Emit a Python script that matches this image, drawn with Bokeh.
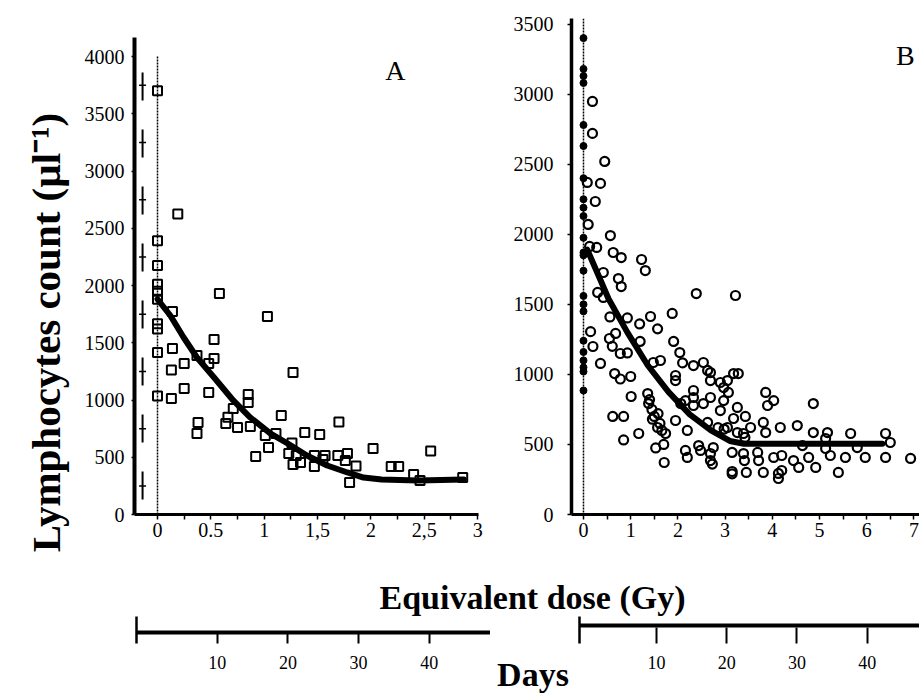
import numpy as np
from bokeh.plotting import figure
from bokeh.layouts import column, row
from bokeh.models import Range1d, FixedTicker, Span
from bokeh.core.properties import value
from bokeh.embed import file_html
from bokeh.resources import INLINE

SERIF = "Liberation Serif"

# ---------------- Panel A data (equivalent dose in Gy, lymphocytes per µl) ----------------
a_dose = [0.0, 0.19, 0.0, 0.0, 0.0, 0.0, 0.0, 0.58, 0.14, 1.03, 0.0, 0.0, 0.53, 0.14, 0.0,
          0.37, 0.53, 0.48, 0.25, 0.13, 1.27, 0.25, 0.0, 0.13, 0.48, 0.85, 0.85, 0.71, 0.66,
          0.38, 0.64, 0.37, 0.75, 0.87, 1.16, 1.01, 1.11, 1.04, 0.92, 1.38, 1.52, 1.70, 1.26,
          1.23, 1.30, 1.27, 1.34, 1.47, 1.57, 1.47, 1.55, 1.69, 1.78, 1.76, 1.86, 1.80, 2.02,
          2.19, 2.26, 2.40, 2.46, 2.56, 2.86]
a_count = [3700, 2625, 2390, 2175, 2010, 1950, 1880, 1930, 1773, 1729, 1665, 1620, 1528, 1450, 1415,
           1389, 1362, 1319, 1319, 1262, 1240, 1100, 1035, 1013, 1066, 1048, 978, 926, 850,
           803, 795, 707, 760, 769, 865, 690, 707, 585, 507, 716, 698, 808, 625,
           533, 515, 437, 454, 515, 515, 419, 480, 515, 533, 472, 424, 280, 576,
           419, 419, 349, 297, 555, 323]
a_fit_dose = [0.0, 0.12, 0.245, 0.37, 0.53, 0.71, 0.87, 1.06, 1.22, 1.40, 1.59, 1.78, 1.93, 2.10, 2.44, 2.87]
a_fit_count = [1880, 1738, 1546, 1371, 1197, 996, 847, 707, 620, 515, 428, 367, 323, 305, 297, 306]
a_guide_marks = [250, 750, 1250, 1750, 2250, 2750, 3250, 3750]

a_xticks = [0, 0.5, 1, 1.5, 2, 2.5, 3]
a_xminor = [0.25, 0.75, 1.25, 1.75, 2.25, 2.75]
a_xlabels = {0: "0", 0.5: "0.5", 1: "1", 1.5: "1,5", 2: "2", 2.5: "2,5", 3: "3"}
a_yticks = [0, 500, 1000, 1500, 2000, 2500, 3000, 3500, 4000]

# ---------------- Panel B data ----------------
b_zero_count = [3400, 3180, 3130, 3080, 2780, 2630, 2400, 2250, 2190, 2130, 1975, 1870, 1850,
                1740, 1560, 1500, 1450, 1240, 1160, 1100, 1050, 1020, 885]
b_dose = [0.19, 0.19, 0.45, 0.08, 0.36, 0.25, 0.10, 0.57, 0.13, 0.28, 0.63, 0.80, 1.23, 1.31, 0.42,
          0.74, 0.80, 0.30, 0.42, 2.39, 3.22, 0.56, 0.93, 1.42, 1.88, 1.19, 0.15, 1.57, 0.20, 0.55,
          0.61, 0.68, 1.20, 0.93, 0.78, 0.36, 0.66, 0.78, 1.00, 1.01, 0.62, 0.85, 0.85, 1.17, 1.53,
          1.70, 1.71, 1.91, 2.04, 2.10, 1.95, 1.95, 1.48, 1.63, 2.33, 2.54, 2.63, 2.69, 2.69, 2.90,
          3.05, 2.97, 3.18, 3.28, 3.07, 2.97, 2.90, 2.69, 2.54, 2.33, 2.33, 2.33, 2.16, 2.06, 1.95,
          1.38, 1.36, 1.45, 1.50, 1.58, 1.62, 1.57, 1.74, 2.20, 2.16, 2.20, 2.44, 2.48, 2.69, 2.69,
          2.75, 2.73, 3.05, 3.18, 3.26, 3.43, 3.26, 3.39, 3.54, 3.86, 4.03, 3.90, 3.81, 4.17, 3.15,
          3.39, 3.41, 3.69, 3.71, 3.15, 3.15, 3.45, 3.81, 4.03, 4.20, 4.13, 4.20, 4.13, 4.53, 4.45,
          4.56, 4.77, 4.92, 4.87, 4.64, 4.87, 5.17, 5.13, 5.13, 5.23, 5.40, 5.55, 5.66, 5.80, 5.97,
          6.40, 6.50, 6.40, 6.93, 3.86, 1.40, 1.46, 1.66, 2.63, 2.85, 2.98, 3.42]
b_count = [2948, 2720, 2520, 2370, 2363, 2234, 2070, 1991, 1913, 1906, 1870, 1834, 1820, 1741, 1727,
           1684, 1627, 1585, 1549, 1577, 1563, 1410, 1403, 1413, 1435, 1360, 1305, 1325, 1199, 1256,
           1200, 1292, 1235, 1153, 1149, 1078, 1006, 967, 985, 842, 700, 700, 532, 578, 475,
           500, 371, 1235, 1156, 1082, 992, 956, 1085, 1099, 1063, 1085, 1028, 1013, 956, 942,
           956, 906, 1006, 1006, 871, 813, 742, 835, 792, 885, 835, 778, 813, 792, 671,
           792, 863, 750, 700, 720, 650, 621, 578, 600, 457, 407, 492, 457, 435, 385,
           478, 360, 621, 685, 764, 700, 585, 578, 621, 871, 813, 778, 657, 621, 443,
           435, 385, 443, 385, 307, 290, 300, 300, 407, 421, 293, 314, 257, 635, 385,
           336, 407, 336, 792, 492, 585, 585, 542, 471, 421, 300, 407, 578, 478, 407,
           578, 514, 407, 400, 585, 820, 680, 600, 657, 620, 610, 550]
b_fit_dose = [0.08, 0.30, 0.53, 0.93, 1.36, 1.80, 2.25, 2.70, 3.10, 3.40, 4.50, 6.33]
b_fit_count = [1890, 1720, 1540, 1300, 1065, 875, 715, 600, 525, 505, 505, 505]

b_xticks = [0, 1, 2, 3, 4, 5, 6, 7]
b_xminor = [0.5, 1.5, 2.5, 3.5, 4.5, 5.5, 6.5]
b_yticks = [0, 500, 1000, 1500, 2000, 2500, 3000, 3500]

days_ticks = [10, 20, 30, 40]

# guide-line extents (layout constants, in data units)
A_GUIDE_X = -0.14
A_GUIDE_SPAN = [0, 4000]
A_AXIS_TOP = 4166


# ---------------- helpers ----------------
def make_fig(width, height, x_range, y_range, left, right, top, bottom, xaxis=True, yaxis=True):
    kw = {}
    if not xaxis:
        kw["x_axis_type"] = None
    if not yaxis:
        kw["y_axis_type"] = None
    p = figure(width=width, height=height, x_range=x_range, y_range=y_range,
               toolbar_location=None, output_backend="svg", **kw)
    p.min_border_left = left
    p.min_border_right = right
    p.min_border_top = top
    p.min_border_bottom = bottom
    p.outline_line_color = None
    p.background_fill_color = "white"
    p.border_fill_color = "white"
    p.xgrid.grid_line_color = None
    p.ygrid.grid_line_color = None
    return p


def style_axis(ax, ticks, minor=(), font_size="20px", standoff=6, tick_out=4, tick_in=0,
               line_width=3, line=True):
    ax.ticker = FixedTicker(ticks=list(ticks), minor_ticks=list(minor))
    ax.axis_line_color = "black" if line else None
    ax.axis_line_width = line_width
    ax.major_tick_line_color = "black"
    ax.major_tick_line_width = 1.5
    ax.major_tick_out = tick_out
    ax.major_tick_in = tick_in
    ax.minor_tick_line_color = "black" if minor else None
    ax.minor_tick_line_width = 1.5
    ax.minor_tick_out = tick_out
    ax.minor_tick_in = tick_in
    ax.major_label_text_font = SERIF
    ax.major_label_text_font_size = font_size
    ax.major_label_text_color = "black"
    ax.major_label_standoff = standoff


def bare_axis(ax, line=True, line_width=2.5):
    ax.ticker = FixedTicker(ticks=[])
    ax.axis_line_color = "black" if line else None
    ax.axis_line_width = line_width
    ax.major_tick_out = 0
    ax.major_tick_in = 0
    ax.minor_tick_out = 0
    ax.minor_tick_in = 0
    ax.major_label_standoff = 0
    ax.major_label_text_font_size = "0px"


# ---------------- y-axis title column (full height 0..616 px) ----------------
ytitle = make_fig(70, 616, Range1d(0, 70), Range1d(0, 616), 0, 0, 0, 0, xaxis=False, yaxis=False)
ytitle.text(x=[45], y=[284], text=["Lymphocytes count (µl⁻¹)"], angle=np.pi / 2,
            text_font=value(SERIF), text_font_size="41px", text_font_style="bold",
            text_align="center", text_baseline="middle", text_color="black")

# ---------------- Panel A (frame 134..478 x 18..514 px) ----------------
pA = make_fig(420, 550, Range1d(-0.2156, 3.008), Range1d(0, 4332), 64, 12, 18, 36)
style_axis(pA.xaxis[0], a_xticks, a_xminor, font_size="20px", standoff=3, tick_out=5, line_width=3)
pA.xaxis[0].major_label_overrides = a_xlabels
style_axis(pA.yaxis[0], a_yticks, (), font_size="20px", standoff=7, tick_out=3, line_width=4)
pA.yaxis[0].bounds = (0, A_AXIS_TOP)

pA.line(x=[0, 0], y=A_GUIDE_SPAN, line_color="black", line_width=1.5, line_dash="2 1")
pA.line(x=[A_GUIDE_X, A_GUIDE_X], y=A_GUIDE_SPAN, line_color="black", line_width=2,
        line_dash="28 29", line_dash_offset=42)
pA.scatter(x=[A_GUIDE_X] * len(a_guide_marks), y=a_guide_marks, marker="dash", size=7,
           line_color="black", line_width=1.5)
pA.scatter(x=a_dose, y=a_count, marker="square", size=9, fill_color=None,
           line_color="black", line_width=2)
pA.line(x=a_fit_dose, y=a_fit_count, line_color="black", line_width=6,
        line_cap="round", line_join="round")
pA.text(x=[2.23], y=[3878], text=["A"], text_font=value(SERIF), text_font_size="28px",
        text_align="center", text_baseline="middle", text_color="black")

# ---------------- Panel B (frame 571..919 x 18..514 px) ----------------
pB = make_fig(429, 550, Range1d(-0.254, 7.119), Range1d(0, 3540), 81, 0, 18, 36)
style_axis(pB.xaxis[0], b_xticks, b_xminor, font_size="20px", standoff=3, tick_out=5, line_width=3)
style_axis(pB.yaxis[0], b_yticks, (), font_size="20px", standoff=14, tick_out=4, line_width=3.5)

pB.add_layout(Span(location=0, dimension="height", line_color="black",
                   line_width=1.5, line_dash="2 1"))
pB.scatter(x=[0] * len(b_zero_count), y=b_zero_count, marker="circle", size=7,
           fill_color="black", line_color="black")
pB.scatter(x=b_dose, y=b_count, marker="circle", size=9, fill_color=None,
           line_color="black", line_width=2.2)
pB.line(x=b_fit_dose, y=b_fit_count, line_color="black", line_width=6,
        line_cap="round", line_join="round")
pB.text(x=[6.82], y=[3276], text=["B"], text_font=value(SERIF), text_font_size="28px",
        text_align="center", text_baseline="middle", text_color="black")

# ---------------- x title strip (x 70..919, y 550..616) ----------------
strip = make_fig(849, 66, Range1d(0, 849), Range1d(0, 66), 0, 0, 0, 0, xaxis=False, yaxis=False)
strip.text(x=[462], y=[19], text=["Equivalent dose (Gy)"], text_font=value(SERIF),
           text_font_size="34px", text_font_style="bold", text_align="center",
           text_baseline="middle", text_color="black")

# ---------------- Days axes (row frames 616..643 px) ----------------
dA = make_fig(490, 80, Range1d(-1.414, 48.66), Range1d(-11, 16), 136, 0, 0, 53)
style_axis(dA.xaxis[0], days_ticks, (), font_size="18px", standoff=12, tick_out=0, tick_in=11,
           line=False)
dA.xaxis[0].major_tick_line_width = 2
bare_axis(dA.yaxis[0])
dA.add_layout(Span(location=0, dimension="width", line_color="black", line_width=4))

days_lbl = make_fig(85, 80, Range1d(0, 1), Range1d(0, 1), 0, 0, 0, 53, yaxis=False)
bare_axis(days_lbl.xaxis[0], line=False)
days_lbl.xaxis[0].axis_label = "Days"
days_lbl.xaxis[0].axis_label_text_font = SERIF
days_lbl.xaxis[0].axis_label_text_font_size = "34px"
days_lbl.xaxis[0].axis_label_text_font_style = "bold"
days_lbl.xaxis[0].axis_label_text_color = "black"
days_lbl.xaxis[0].axis_label_standoff = 12

dB = make_fig(344, 80, Range1d(-0.94, 47.43), Range1d(-18, 9), 4, 0, 0, 53)
style_axis(dB.xaxis[0], days_ticks, (), font_size="18px", standoff=12, tick_out=0, tick_in=16,
           line=False)
dB.xaxis[0].major_tick_line_width = 2
bare_axis(dB.yaxis[0])
dB.add_layout(Span(location=0, dimension="width", line_color="black", line_width=4))

upper = row(ytitle, column(row(pA, pB), strip))
layout = column(upper, row(dA, days_lbl, dB))

open("out.html", "w").write(file_html(layout, INLINE))
